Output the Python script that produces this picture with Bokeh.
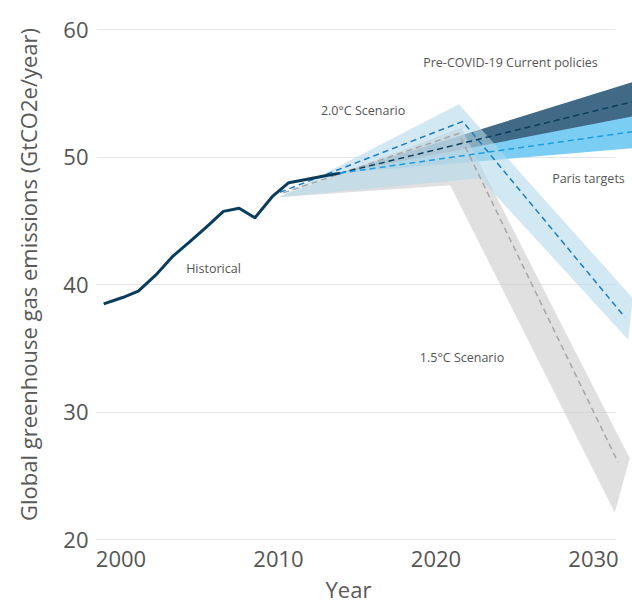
from bokeh.plotting import figure
from bokeh.models import Label, Range1d, Title
from bokeh.embed import file_html
from bokeh.resources import INLINE

# ---------------- data (year, GtCO2e/year) ----------------
hist_year = [1998.9, 2000.1, 2001.1, 2002.2, 2003.3, 2004.3, 2005.4, 2006.5, 2007.5,
             2008.5, 2009.6, 2010.65, 2011.75, 2012.8, 2013.9]
hist_val = [38.5, 39.0, 39.5, 40.75, 42.25, 43.3, 44.5, 45.75, 46.0,
            45.25, 46.9, 48.0, 48.25, 48.5, 48.75]

# Pre-COVID-19 current policies
cp_year = [2013.9, 2032.5]
cp_mid = [48.75, 54.35]
cp_high = [48.75, 55.9]
cp_low = [48.75, 52.1]

# Paris targets
paris_year = [2013.9, 2032.5]
paris_mid = [48.75, 52.0]
paris_high = [48.75, 53.2]
paris_low = [48.75, 50.7]

# 2.0 °C scenario
s20_mid_year = [2010.1, 2021.7, 2032.0]
s20_mid = [47.25, 52.8, 37.45]
s20_high_year = [2010.0, 2021.45, 2032.5]
s20_high = [46.85, 54.15, 38.95]
s20_low_year = [2010.0, 2022.8, 2032.2]
s20_low = [46.85, 48.35, 35.7]

# 1.5 °C scenario
s15_mid_year = [2010.3, 2021.45, 2031.55]
s15_mid = [47.2, 51.85, 26.1]
s15_high_year = [2010.0, 2021.6, 2032.3]
s15_high = [46.85, 52.3, 26.4]
s15_low_year = [2010.0, 2020.9, 2031.35]
s15_low = [46.85, 47.8, 22.15]

x_ticks = [2000, 2010, 2020, 2030]
y_ticks = [20, 30, 40, 50, 60]

x_label = "Year"
y_label = "Global greenhouse gas emissions (GtCO2e/year)"

# ---------------- figure ----------------
FONT = "Open Sans"
X0, X1 = 1998.444, 2032.476
p = figure(frame_width=536, frame_height=532,
           x_range=Range1d(X0, X1), y_range=Range1d(19.96, 61.65),
           output_backend="svg", toolbar_location=None,
           min_border_left=96, min_border_right=0, min_border_top=8, min_border_bottom=0)
p.outline_line_color = None
p.background_fill_color = "white"

p.xgrid.visible = False
p.ygrid.grid_line_color = "#e6e6e6"
p.ygrid.grid_line_width = 1
p.ygrid.cross_bounds = (X0, 2031.4)

for ax in (p.xaxis[0], p.yaxis[0]):
    ax.axis_line_color = None
    ax.major_tick_line_color = None
    ax.minor_tick_line_color = None
    ax.major_label_text_font = FONT
    ax.major_label_text_font_size = "22px"
    ax.major_label_text_color = "#555555"
    ax.axis_label_text_font = FONT
    ax.axis_label_text_font_size = "22px"
    ax.axis_label_text_font_style = "normal"
    ax.axis_label_text_color = "#595959"
    ax.major_tick_out = 0
    ax.major_tick_in = 0

p.xaxis.ticker = x_ticks
p.yaxis.ticker = y_ticks
p.yaxis.axis_label = y_label
p.xaxis.major_label_standoff = 10
p.yaxis.major_label_standoff = 8
p.yaxis.axis_label_standoff = 17

# x-axis title under the tick labels
p.add_layout(Title(text=x_label, align="left", offset=229, standoff=4,
                   text_font=FONT, text_font_size="22px", text_font_style="normal",
                   text_color="#595959"), "below")


def band(xh, yh, xl, yl):
    return list(xh) + list(xl)[::-1], list(yh) + list(yl)[::-1]


# bands
bx, by = band(cp_year, cp_high, cp_year, cp_low)
p.patch(bx, by, fill_color="#406a86", fill_alpha=1.0, line_color=None)
bx, by = band(paris_year, paris_high, paris_year, paris_low)
p.patch(bx, by, fill_color="#7ccdf3", fill_alpha=1.0, line_color=None)
bx, by = band(s15_high_year, s15_high, s15_low_year, s15_low)
p.patch(bx, by, fill_color="#cfcfcf", fill_alpha=0.65, line_color=None)
bx, by = band(s20_high_year, s20_high, s20_low_year, s20_low)
p.patch(bx, by, fill_color="#b4d8ea", fill_alpha=0.6, line_color=None)

# dashed central lines
p.line(s15_mid_year, s15_mid, line_color="#a6a6a6", line_width=1.5, line_dash="6 4")
p.line(s20_mid_year, s20_mid, line_color="#1a7cc1", line_width=1.5, line_dash="6 4")
p.line(cp_year, cp_mid, line_color="#0a3d5c", line_width=1.5, line_dash="6 4")
p.line(paris_year, paris_mid, line_color="#1b9fe0", line_width=1.5, line_dash="6 4")

# historical
p.line(hist_year, hist_val, line_color="#0a3d5c", line_width=3, line_join="round")

# annotations
labels = [
    (2024.73, 57.41, "Pre-COVID-19 Current policies"),
    (2015.37, 53.69, "2.0°C Scenario"),
    (2029.68, 48.35, "Paris targets"),
    (2021.65, 34.27, "1.5°C Scenario"),
    (2005.87, 41.29, "Historical"),
]
for x, y, t in labels:
    p.add_layout(Label(x=x, y=y, text=t, text_font=FONT, text_font_size="12.5px",
                       text_color="#555555", text_align="center", text_baseline="middle"))

open("out.html", "w").write(file_html(p, INLINE))
